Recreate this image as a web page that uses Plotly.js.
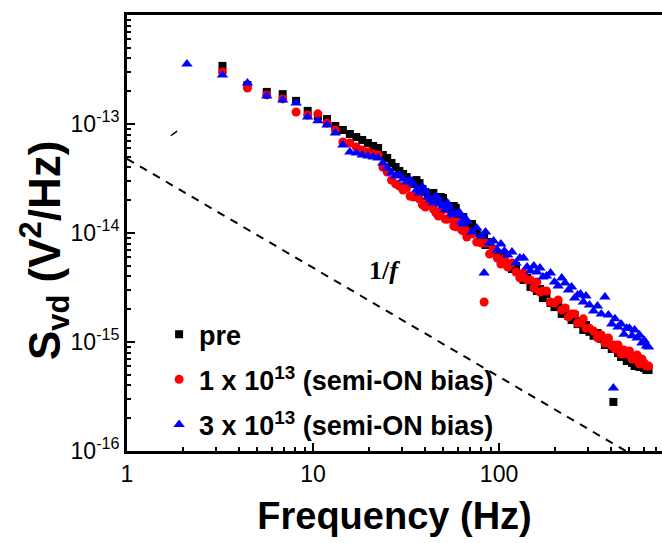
<!DOCTYPE html>
<html>
<head>
<meta charset="utf-8">
<script src="https://cdn.plot.ly/plotly-3.0.1.min.js"></script>
<style>html,body{margin:0;padding:0;background:#fff;}</style>
</head>
<body>
<div id="chart" style="width:662px;height:543px;"></div>
<script>
// Frequencies (Hz)
const freq = [2.1,3.26,4.44,5.64,6.87,8.11,9.36,10.62,11.89,13.18,14.47,15.77,17.08,18.39,19.72,21.04,22.38,23.72,25.06,26.41,27.77,29.13,30.49,
  31.85,33.23,34.6,35.98,37.37,38.76,40.15,41.54,42.95,44.35,45.75,47.16,48.57,49.98,51.4,52.82,54.24,55.67,57.09,58.53,59.96,61.4,62.83,64.28,65.71,67.14,
  71.47,75.84,80.21,83.14,84.6,88.98,93.43,97.87,102.3,106.8,111.3,
  117.3,123.3,129.3,135.4,141.5,147.5,153.7,159.8,165.9,172.1,
  179.8,189.1,198.5,207.8,217.2,226.6,236.1,245.5,255.0,264.5,274.1,283.7,293.3,
  306.2,322.2,338.2,354.4,370.7,387.1,403.6,411.8,420.0,436.2,452.8,469.4,485.9,502.4,519.0,535.6,552.3,569.1,586.0,602.8,619.7,636.6];

// S_vd (V^2/Hz) : pre
const svdPre = [null,3.41e-13,2.28e-13,1.97e-13,1.88e-13,1.63e-13,1.32e-13,1.18e-13,1.11e-13,9.59e-14,8.81e-14,8.09e-14,7.60e-14,7.13e-14,6.69e-14,6.28e-14,6.02e-14,5.20e-14,4.88e-14,4.39e-14,4.03e-14,3.71e-14,3.48e-14,
  3.26e-14,3.00e-14,2.82e-14,3.06e-14,2.87e-14,2.53e-14,2.38e-14,2.18e-14,2.28e-14,2.33e-14,1.97e-14,1.92e-14,2.14e-14,2.09e-14,1.85e-14,1.73e-14,1.66e-14,1.73e-14,1.77e-14,1.70e-14,1.46e-14,1.34e-14,1.40e-14,1.40e-14,1.21e-14,1.16e-14,
  1.21e-14,1.00e-14,8.63e-15,9.19e-15,7.76e-15,8.27e-15,6.84e-15,6.55e-15,5.65e-15,6.15e-15,5.20e-15,
  4.67e-15,4.98e-15,4.21e-15,3.71e-15,3.87e-15,3.20e-15,3.48e-15,2.94e-15,3.06e-15,2.53e-15,
  2.76e-15,2.28e-15,2.09e-15,2.18e-15,1.81e-15,2.01e-15,1.73e-15,1.59e-15,1.77e-15,1.46e-15,1.53e-15,1.29e-15,1.43e-15,
  1.24e-15,1.14e-15,1.21e-15,1.07e-15,9.39e-16,1.02e-15,8.63e-16,2.82e-16,9.39e-16,7.93e-16,7.29e-16,7.93e-16,6.69e-16,7.29e-16,6.42e-16,6.02e-16,6.69e-16,5.90e-16,6.28e-16,5.77e-16,5.53e-16,5.53e-16];

// S_vd : 1 x 10^13 (semi-ON bias)
const svd1e13 = [null,3.00e-13,2.14e-13,1.85e-13,1.70e-13,1.29e-13,1.21e-13,1.24e-13,1.02e-13,8.81e-14,6.84e-14,6.69e-14,6.15e-14,5.77e-14,5.53e-14,5.31e-14,5.20e-14,4.03e-14,3.63e-14,3.06e-14,2.82e-14,2.70e-14,2.48e-14,
  2.59e-14,2.18e-14,2.14e-14,2.23e-14,2.05e-14,1.81e-14,1.73e-14,1.92e-14,1.92e-14,1.66e-14,1.53e-14,1.43e-14,1.56e-14,1.63e-14,1.34e-14,1.34e-14,1.40e-14,1.34e-14,1.16e-14,1.14e-14,1.26e-14,1.24e-14,1.07e-14,1.04e-14,1.09e-14,9.19e-15,
  9.79e-15,8.27e-15,8.09e-15,2.33e-15,8.09e-15,6.42e-15,7.13e-15,5.90e-15,5.20e-15,5.77e-15,4.88e-15,
  5.31e-15,4.39e-15,3.87e-15,4.30e-15,3.71e-15,3.71e-15,3.13e-15,3.55e-15,2.87e-15,2.94e-15,
  2.94e-15,2.33e-15,2.28e-15,2.43e-15,1.97e-15,2.05e-15,1.70e-15,1.81e-15,1.81e-15,1.49e-15,1.49e-15,1.63e-15,1.34e-15,
  1.34e-15,1.26e-15,1.09e-15,1.16e-15,9.79e-16,1.09e-15,9.19e-16,9.39e-16,8.63e-16,9.39e-16,7.76e-16,8.45e-16,7.76e-16,8.27e-16,6.98e-16,6.98e-16,7.60e-16,6.28e-16,6.98e-16,6.42e-16,6.02e-16,6.02e-16];

// S_vd : 3 x 10^13 (semi-ON bias)
const svd3e13 = [3.55e-13,2.82e-13,2.38e-13,1.81e-13,1.66e-13,1.56e-13,1.16e-13,1.07e-13,9.79e-14,8.27e-14,6.42e-14,5.53e-14,5.42e-14,5.20e-14,5.09e-14,4.98e-14,4.88e-14,4.39e-14,3.95e-14,3.55e-14,3.33e-14,3.41e-14,3.13e-14,
  2.94e-14,3.06e-14,2.82e-14,2.48e-14,2.33e-14,2.64e-14,2.43e-14,2.14e-14,2.01e-14,1.88e-14,2.18e-14,2.05e-14,1.85e-14,1.77e-14,1.63e-14,1.88e-14,1.73e-14,1.49e-14,1.46e-14,1.49e-14,1.49e-14,1.53e-14,1.26e-14,1.21e-14,1.37e-14,1.29e-14,
  1.02e-14,1.11e-14,9.39e-15,4.30e-15,1.02e-14,8.09e-15,8.45e-15,6.98e-15,7.93e-15,6.84e-15,6.28e-15,
  6.69e-15,5.31e-15,5.90e-15,5.90e-15,4.88e-15,4.48e-15,4.98e-15,4.39e-15,4.77e-15,3.95e-15,
  4.03e-15,4.30e-15,3.55e-15,3.26e-15,3.87e-15,3.48e-15,3.00e-15,3.20e-15,2.53e-15,2.70e-15,2.76e-15,2.33e-15,2.64e-15,
  2.18e-15,1.92e-15,2.14e-15,1.81e-15,2.59e-15,1.77e-15,1.46e-15,3.79e-16,1.63e-15,1.37e-15,1.46e-15,1.18e-15,1.34e-15,1.34e-15,1.14e-15,1.29e-15,1.09e-15,1.16e-15,9.79e-16,1.04e-15,9.19e-16,9.00e-16];

// 1/f guide line (end points)
const guideF = [1, 480];
const guideS = [4.8e-14, 1.0e-16];
// small stray segment near 10^-13
const strayF = [1.72, 1.86];
const strayS = [7.8e-14, 8.6e-14];

const seriesNames = ['<b>pre</b>', '<b>1 x 10<sup>13</sup> (semi-ON bias)</b>', '<b>3 x 10<sup>13</sup> (semi-ON bias)</b>'];

const xTickVals = [1, 10, 100];
const xTickText = ['1', '10', '100'];
const xMinorVals = [2,3,4,5,6,7,8,9,20,30,40,50,60,70,80,90,200,300,400,500,600,700];
const yTickVals = [1e-16, 1e-15, 1e-14, 1e-13, 1e-12];
const yTickText = ['10<sup>-16</sup>', '10<sup>-15</sup>', '10<sup>-14</sup>', '10<sup>-13</sup>', '10<sup>-12</sup>'];
const yMinorVals = [];
[1e-16,1e-15,1e-14,1e-13].forEach(function(d){ for (let k = 2; k <= 9; k++) yMinorVals.push(k*d); });

const traces = [
  {x: guideF, y: guideS, type: 'scatter', mode: 'lines', showlegend: false, hoverinfo: 'skip',
   line: {color: 'black', width: 2, dash: '8px,7px'}},
  {x: strayF, y: strayS, type: 'scatter', mode: 'lines', showlegend: false, hoverinfo: 'skip',
   line: {color: 'black', width: 1.5}},
  {x: freq, y: svdPre, name: seriesNames[0], legendgroup: 'a', type: 'scatter', mode: 'markers',
   marker: {symbol: 'square', size: 8, color: 'black'}},
  {x: freq, y: svd1e13, name: seriesNames[1], legendgroup: 'b', type: 'scatter', mode: 'markers',
   marker: {symbol: 'circle', size: 9, color: '#ff0000'}},
  {x: freq, y: svd3e13, name: seriesNames[2], legendgroup: 'c', type: 'scatter', mode: 'markers',
   marker: {symbol: 'triangle-up', size: 10, color: '#0000ff'}}
];

const axisCommon = {
  type: 'log', showgrid: false, zeroline: false, showline: true, linewidth: 3, linecolor: 'black',
  ticks: 'inside', ticklen: 8, tickwidth: 2, tickcolor: 'black', tickmode: 'array',
  tickfont: {size: 23, color: 'black'}
};

const layout = {
  width: 662, height: 543,
  margin: {l: 127, r: 0, t: 15, b: 92},
  paper_bgcolor: 'white', plot_bgcolor: 'white',
  font: {family: 'Liberation Sans, Arial, sans-serif', color: 'black'},
  xaxis: Object.assign({}, axisCommon, {
    range: [0, 2.876], mirror: true,
    tickvals: xTickVals, ticktext: xTickText,
    minor: {ticks: 'inside', ticklen: 4, tickwidth: 2, tickcolor: 'black', tickmode: 'array', tickvals: xMinorVals},
    title: {text: '<b>Frequency (Hz)</b>', font: {size: 38, color: 'black'}, standoff: 17}
  }),
  yaxis: Object.assign({}, axisCommon, {
    range: [-16, -12], mirror: false,
    tickvals: yTickVals, ticktext: yTickText,
    minor: {ticks: 'inside', ticklen: 4, tickwidth: 2, tickcolor: 'black', tickmode: 'array', tickvals: yMinorVals},
    title: {text: ''}
  }),
  legend: {x: 0.06, y: 0.323, xanchor: 'left', yanchor: 'top', bgcolor: 'rgba(0,0,0,0)',
           font: {size: 27, color: 'black'}, traceorder: 'grouped', tracegroupgap: 7, itemwidth: 30},
  annotations: [{
    xref: 'paper', yref: 'paper', x: 0.482, y: 0.415, xanchor: 'center', yanchor: 'middle', showarrow: false,
    text: '<b>1/<i>f</i></b>', font: {family: 'Liberation Serif, Times New Roman, serif', size: 26, color: 'black'}
  }, {
    xref: 'paper', yref: 'paper', x: -0.153, y: 0.459, xanchor: 'center', yanchor: 'middle', showarrow: false,
    textangle: -90,
    text: '<b>S<sub>vd</sub> (V<sup>2</sup>/Hz)</b>', font: {size: 44, color: 'black'}
  }]
};

Plotly.newPlot('chart', traces, layout, {displayModeBar: false, staticPlot: true});
</script>
</body>
</html>
